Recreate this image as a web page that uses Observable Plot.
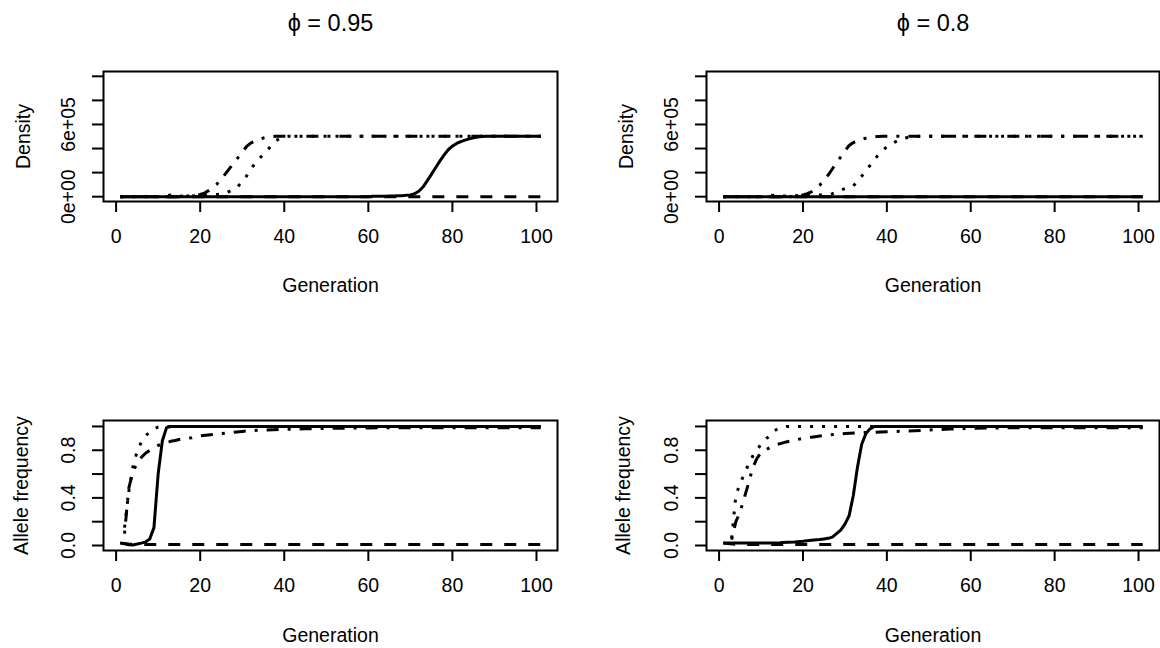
<!DOCTYPE html>
<html><head><meta charset="utf-8">
<script src="https://cdn.jsdelivr.net/npm/d3@7"></script>
<script src="https://cdn.jsdelivr.net/npm/@observablehq/plot@0.6"></script>
<style>
html,body{margin:0;padding:0;background:#fff;}
#chart{width:1160px;height:648px;display:grid;grid-template-columns:580px 580px;grid-template-rows:324px 324px;}
#chart svg{display:block;}
</style></head><body><div id="chart"></div>
<script>
// ---- axis / label data ----
const generationTicks = [0, 20, 40, 60, 80, 100];
const densityTicks = [0, 200000, 400000, 600000, 800000, 1000000];
const densityLabelValues = [0, 600000];
const densityLabels = ["0e+00", "6e+05"];
const freqTicks = [0, 0.2, 0.4, 0.6, 0.8, 1];
const freqLabelValues = [0, 0.4, 0.8];
const freqLabels = ["0.0", "0.4", "0.8"];
const panelTitles = ["\u03D5 = 0.95", "\u03D5 = 0.8"];
const xLabel = "Generation";
const yLabels = ["Density", "Allele frequency"];

// ---- series: [generation, value] (vertices of each R line) ----
// phi = 0.95, density
const dens95Solid = [[1,0],[60,0],[61,3000],[62,4000],[64,4000],[65,5000],[66,6000],[67,7000],[68,8000],[69,11000],[70,15000],[71,24000],[72,45000],[73,80000],[74,132000],[75,185000],[76,240000],[77,295000],[78,345000],[79,390000],[80,420000],[81,442000],[82,458000],[83,470000],[84,480000],[85,489000],[86,495000],[87,499000],[88,502000],[101,502000]];
const dens95Dashed = [[1,0],[101,0]];
const dens95Dotted = [[1,0],[11,0],[12,8000],[13,15000],[14,12000],[15,6000],[16,3000],[17,4000],[18,6000],[19,8000],[20,10000],[21,12000],[22,14000],[23,16000],[24,18000],[25,22000],[26,30000],[27,45000],[28,60000],[29,85000],[30,125000],[31,170000],[32,225000],[33,275000],[34,315000],[35,350000],[36,385000],[37,430000],[38,465000],[39,485000],[40,497000],[41,502000],[101,502000]];
const dens95DotDash = [[1,0],[16,0],[17,5000],[18,10000],[19,12000],[20,18000],[21,30000],[22,50000],[23,75000],[24,105000],[25,145000],[26,190000],[27,235000],[28,280000],[29,325000],[30,370000],[31,415000],[32,445000],[33,462000],[34,475000],[35,487000],[36,494000],[37,499000],[38,502000],[101,502000]];
// phi = 0.8, density
const dens80Solid = [[1,0],[101,0]];
const dens80Dashed = [[1,0],[101,0]];
const dens80Dotted = [[1,0],[11,0],[12,8000],[13,12000],[14,10000],[15,5000],[20,10000],[21,18000],[22,12000],[24,15000],[26,20000],[27,25000],[28,40000],[29,55000],[30,68000],[31,78000],[32,90000],[33,125000],[34,170000],[35,215000],[36,260000],[37,305000],[38,350000],[39,385000],[40,415000],[41,435000],[42,455000],[43,472000],[44,485000],[45,492000],[46,497000],[47,500000],[48,502000],[101,502000]];
const dens80DotDash = [[1,0],[17,0],[18,5000],[19,10000],[20,15000],[21,25000],[22,40000],[23,65000],[24,95000],[25,140000],[26,180000],[27,230000],[28,285000],[29,330000],[30,380000],[31,425000],[32,450000],[33,465000],[34,478000],[35,486000],[36,493000],[37,498000],[38,501000],[39,502000],[101,502000]];
// phi = 0.95, allele frequency
const freq95Solid = [[1,0.022],[2,0.015],[3,0.006],[4,0.005],[5,0.012],[6,0.02],[7,0.03],[8,0.055],[9,0.15],[10,0.6],[11,0.88],[12,0.99],[13,1],[101,1]];
const freq95Dashed = [[1,0.02],[3,0.012],[6,0.008],[101,0.008]];
const freq95Dotted = [[2,0.15],[3,0.45],[4,0.66],[5,0.79],[6,0.87],[7,0.92],[8,0.955],[9,0.98],[10,0.995],[11,1],[101,1]];
const freq95DotDash = [[2,0.1],[3,0.48],[4,0.62],[5,0.69],[6,0.74],[7,0.775],[8,0.8],[9,0.82],[10,0.84],[11,0.855],[12,0.865],[13,0.875],[14,0.882],[15,0.89],[16,0.896],[18,0.905],[20,0.922],[25,0.94],[30,0.958],[32,0.965],[35,0.97],[40,0.975],[45,0.98],[50,0.984],[60,0.988],[101,0.99]];
// phi = 0.8, allele frequency
const freq80Solid = [[1,0.02],[14,0.02],[15,0.025],[18,0.03],[20,0.035],[21,0.04],[22,0.045],[24,0.05],[25,0.055],[26,0.06],[27,0.07],[28,0.1],[29,0.13],[30,0.18],[31,0.25],[32,0.42],[33,0.66],[34,0.85],[35,0.94],[36,0.98],[37,1],[101,1]];
const freq80Dashed = [[1,0.02],[4,0.01],[8,0.008],[101,0.008]];
const freq80Dotted = [[3,0.06],[4,0.42],[5,0.52],[6,0.6],[7,0.68],[8,0.75],[9,0.8],[10,0.85],[11,0.89],[12,0.92],[13,0.96],[14,0.98],[15,0.99],[16,1],[101,1]];
const freq80DotDash = [[3,0.05],[4,0.2],[5,0.28],[6,0.4],[7,0.52],[8,0.65],[9,0.73],[10,0.78],[11,0.8],[12,0.82],[13,0.84],[14,0.85],[15,0.86],[16,0.87],[18,0.885],[20,0.9],[22,0.91],[25,0.925],[28,0.935],[30,0.94],[35,0.95],[40,0.955],[45,0.962],[50,0.97],[55,0.978],[60,0.984],[70,0.99],[101,0.99]];

const dashSolid = null, dashDashed = "12,12", dashDotted = "3,9", dashDotDash = "3,9,12,9";

function panel(o) {
  const lines = o.series.map(([data, dash]) => Plot.line(data, {
    x: d => d[0], y: d => d[1], stroke: "#000", strokeWidth: 3,
    strokeDasharray: dash, strokeLinecap: "butt", strokeLinejoin: "round"
  }));
  return Plot.plot({
    width: 580, height: 324,
    marginLeft: o.left, marginRight: o.right, marginTop: o.top, marginBottom: o.bottom,
    x: {domain: [-3, 105]},
    y: {domain: o.yDomain},
    style: {fontFamily: '"Liberation Sans", Arial, sans-serif', fontSize: "19.5px", color: "#000", background: "#fff", overflow: "visible"},
    marks: [
      ...lines,
      Plot.frame({stroke: "#000", strokeWidth: 2}),
      Plot.axisX({ticks: generationTicks, tickSize: 11, tickPadding: 17, strokeWidth: 2, label: null}),
      Plot.axisY({ticks: o.yTicks, tickSize: 11, tickFormat: () => "", strokeWidth: 2, label: null}),
      Plot.text(o.labelValues, {y: d => d, text: (d, i) => o.labels[i], frameAnchor: "left", dx: -35, rotate: -90, textAnchor: "middle", lineAnchor: "middle"}),
      Plot.text([o.yLabel], {frameAnchor: "left", dx: o.yLabelDx, rotate: -90, textAnchor: "middle", lineAnchor: "middle"}),
      Plot.text([xLabel], {frameAnchor: "bottom", dy: o.xLabelDy, lineAnchor: "middle"}),
      o.title ? Plot.text([o.title], {frameAnchor: "top", dy: -48.5, fontSize: 23.5, lineAnchor: "middle"}) : null
    ]
  });
}

const chart = document.getElementById("chart");
const densDomain = [-40000, 1040000];
const freqDomain = [-0.042, 1.05];
chart.append(panel({
  series: [[dens95Solid, dashSolid], [dens95Dashed, dashDashed], [dens95Dotted, dashDotted], [dens95DotDash, dashDotDash]],
  yDomain: densDomain, yTicks: densityTicks, labelValues: densityLabelValues, labels: densityLabels,
  yLabel: yLabels[0], yLabelDx: -80, xLabelDy: 84, title: panelTitles[0],
  left: 103, right: 23, top: 71, bottom: 123
}));
chart.append(panel({
  series: [[dens80Solid, dashSolid], [dens80Dashed, dashDashed], [dens80Dotted, dashDotted], [dens80DotDash, dashDotDash]],
  yDomain: densDomain, yTicks: densityTicks, labelValues: densityLabelValues, labels: densityLabels,
  yLabel: yLabels[0], yLabelDx: -80, xLabelDy: 84, title: panelTitles[1],
  left: 126, right: 1, top: 71, bottom: 123
}));
chart.append(panel({
  series: [[freq95Solid, dashSolid], [freq95Dashed, dashDashed], [freq95Dotted, dashDotted], [freq95DotDash, dashDotDash]],
  yDomain: freqDomain, yTicks: freqTicks, labelValues: freqLabelValues, labels: freqLabels,
  yLabel: yLabels[1], yLabelDx: -82, xLabelDy: 85.5, title: null,
  left: 103, right: 23, top: 96, bottom: 98
}));
chart.append(panel({
  series: [[freq80Solid, dashSolid], [freq80Dashed, dashDashed], [freq80Dotted, dashDotted], [freq80DotDash, dashDotDash]],
  yDomain: freqDomain, yTicks: freqTicks, labelValues: freqLabelValues, labels: freqLabels,
  yLabel: yLabels[1], yLabelDx: -83, xLabelDy: 85.5, title: null,
  left: 126, right: 1, top: 96, bottom: 98
}));
</script>
</body></html>
